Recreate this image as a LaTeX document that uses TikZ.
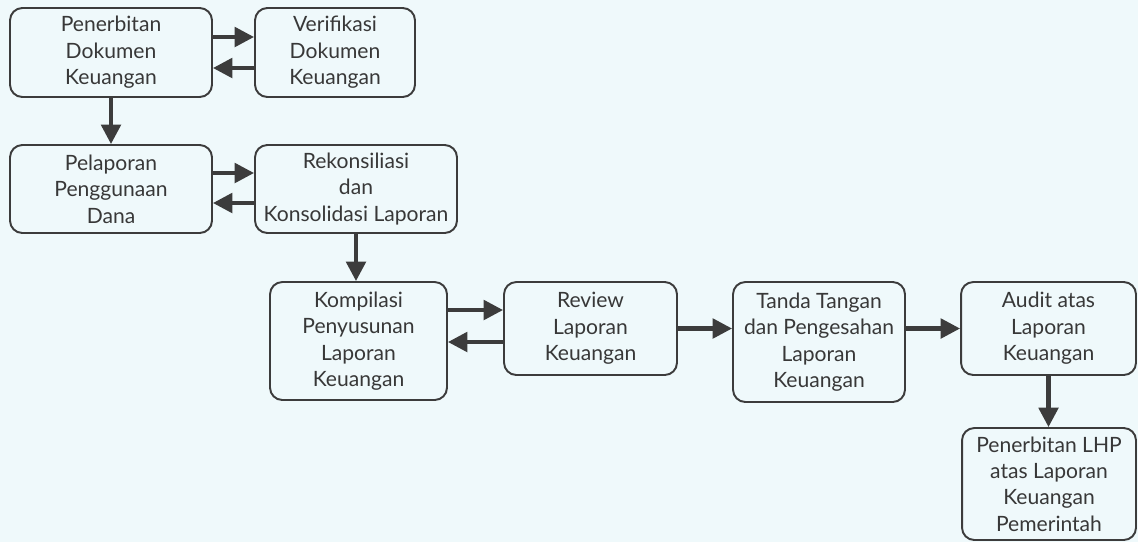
\documentclass[tikz,border=0pt]{standalone}
\usepackage{fontspec}
\setmainfont{Lato}
\usetikzlibrary{arrows.meta}

\definecolor{paper}{HTML}{EFF9FB}
\definecolor{boxline}{HTML}{3C3C3C}
\definecolor{txt}{HTML}{383838}

\tikzset{
  box/.style={draw=boxline, line width=1.1pt, rounded corners=7pt, align=center,
    inner sep=0pt, text=txt, font=\fontsize{12}{15}\selectfont},
  flow/.style={draw=boxline, line width=2.3pt, -{Triangle[length=11pt,width=11pt]}}
}

\begin{document}
\begin{tikzpicture}[x=0.02cm, y=-0.02cm]

% Background and page size
\fill[paper] (0,0) rectangle (1138,542);
\useasboundingbox (0,0) rectangle (1138,542);

% First row
\node[box, minimum width=4.04cm, minimum height=1.78cm] (pen) at (111,52.5) {Penerbitan\\Dokumen\\Keuangan};
\node[box, minimum width=3.2cm, minimum height=1.78cm] (ver) at (335,52.5) {Verifikasi\\Dokumen\\Keuangan};

% Second row
\node[box, minimum width=4.04cm, minimum height=1.76cm] (lap) at (111,189) {Pelaporan\\Penggunaan\\Dana};
\node[box, minimum width=4.04cm, minimum height=1.76cm] (rek) at (356,189) {Rekonsiliasi\\dan\\Konsolidasi Laporan};

% Third row
\node[box, minimum width=3.54cm, minimum height=2.36cm] (kom) at (358.5,341) {Kompilasi\\Penyusunan\\Laporan\\Keuangan};
\node[box, minimum width=3.46cm, minimum height=1.86cm] (rev) at (590.5,328.5) {Review\\Laporan\\Keuangan};
\node[box, minimum width=3.44cm, minimum height=2.4cm] (ttd) at (819,342) {Tanda Tangan\\dan Pengesahan\\Laporan\\Keuangan};
\node[box, minimum width=3.5cm, minimum height=1.86cm] (aud) at (1048.5,328.5) {Audit atas\\Laporan\\Keuangan};

% Last box
\node[box, minimum width=3.48cm, minimum height=2.24cm] (lhp) at (1049,484) {Penerbitan LHP\\atas Laporan\\Keuangan\\Pemerintah};

% Arrows between rows
\draw[flow] (pen.south) -- (lap.north);
\draw[flow] (rek.south) -- (rek.south |- kom.north);
\draw[flow] (aud.south) -- (aud.south |- lhp.north);

% Back and forth arrows
\draw[flow] (pen.east |- 0,37) -- (ver.west |- 0,37);
\draw[flow] (ver.west |- 0,68) -- (pen.east |- 0,68);
\draw[flow] (lap.east |- 0,173) -- (rek.west |- 0,173);
\draw[flow] (rek.west |- 0,203) -- (lap.east |- 0,203);
\draw[flow] (kom.east |- 0,310) -- (rev.west |- 0,310);
\draw[flow] (rev.west |- 0,342) -- (kom.east |- 0,342);

% Forward arrows
\draw[flow] (rev.east) -- (ttd.west |- rev.east);
\draw[flow] (ttd.east |- aud.west) -- (aud.west);

\end{tikzpicture}
\end{document}
